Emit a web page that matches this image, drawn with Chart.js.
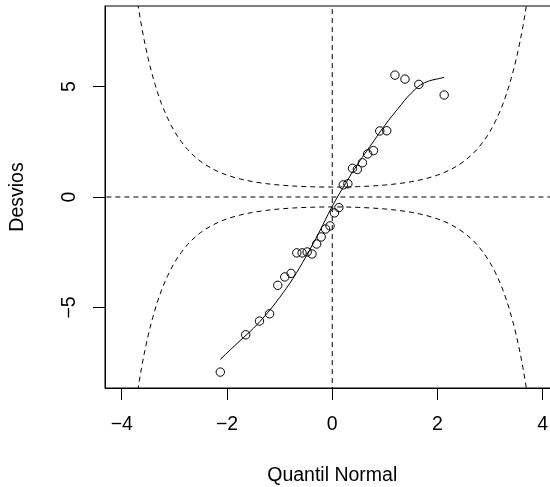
<!DOCTYPE html>
<html>
<head>
<meta charset="utf-8">
<script src="https://cdn.jsdelivr.net/npm/chart.js@4"></script>
<style>
html, body { margin: 0; padding: 0; overflow: hidden; background: #fff; }
#wrap { width: 566px; height: 487px; }
</style>
</head>
<body>
<div id="wrap"><canvas id="myChart" width="566" height="487"></canvas></div>
<script>
var quantis = [-2.128, -1.645, -1.383, -1.192, -1.036, -0.903, -0.783, -0.674, -0.573, -0.477,
               -0.385, -0.297, -0.210, -0.126, -0.042, 0.042, 0.126, 0.210, 0.297, 0.385,
               0.477, 0.573, 0.674, 0.783, 0.903, 1.036, 1.192, 1.383, 1.645, 2.128]
var desvios = [-7.93, -6.24, -5.62, -5.29, -4.0, -3.62, -3.46, -2.53, -2.53, -2.49,
               -2.58, -2.13, -1.81, -1.45, -1.31, -0.72, -0.48, 0.55, 0.6, 1.3,
               1.25, 1.55, 1.95, 2.1, 2.99, 3.0, 5.52, 5.34, 5.1, 4.62]

var curvaX = [-2.128, -1.75, -1.5, -1.25, -1, -0.75, -0.5, -0.25, 0, 0.25, 0.5, 0.75, 1, 1.25, 1.5, 1.75, 2.128]
var curvaY = [-7.35, -6.5, -5.95, -5.3, -4.55, -3.7, -2.7, -1.6, -0.42, 0.6, 1.55, 2.4, 3.25, 4.0, 4.7, 5.17, 5.42]

var bandaX = [-3.75, -3.625, -3.5, -3.375, -3.25, -3.125, -3, -2.875, -2.75, -2.625, -2.5, -2.25, -2, -1.75, -1.5, -1.25, -1, -0.75, -0.5, -0.25,
              0, 0.25, 0.5, 0.75, 1, 1.25, 1.5, 1.75, 2, 2.25, 2.5, 2.625, 2.75, 2.875, 3, 3.125, 3.25, 3.375, 3.5, 3.625, 3.75]
var bandaSup = [9.57, 7.73, 6.28, 5.15, 4.25, 3.549, 2.974, 2.525, 2.152, 1.855, 1.609, 1.243, 0.991, 0.816, 0.692, 0.604, 0.542, 0.499, 0.471, 0.455,
                0.45, 0.455, 0.471, 0.499, 0.542, 0.604, 0.692, 0.816, 0.991, 1.243, 1.609, 1.855, 2.152, 2.525, 2.974, 3.549, 4.25, 5.15, 6.28, 7.73, 9.57]
var bandaInf = [-9.57, -7.73, -6.28, -5.15, -4.25, -3.549, -2.974, -2.525, -2.152, -1.855, -1.609, -1.243, -0.991, -0.816, -0.692, -0.604, -0.542, -0.499, -0.471, -0.455,
                -0.45, -0.455, -0.471, -0.499, -0.542, -0.604, -0.692, -0.816, -0.991, -1.243, -1.609, -1.855, -2.152, -2.525, -2.974, -3.549, -4.25, -5.15, -6.28, -7.73, -9.57]

var xTicks = [-4, -2, 0, 2, 4]
var yTicks = [-5, 0, 5]
var xLimite = [-4.32, 4.32]
var yLimite = [-8.65, 8.65]

function pares(xs, ys){
    var out = []
    for(var i=0;i<xs.length;i++) out.push({x: xs[i], y: ys[i]})
    return out
}

function menos(v){
    return String(v).replace("-", "\u2212")
}

var fonte = "'Liberation Sans', Arial, Helvetica, sans-serif"

var caixa = {
    id: "caixa",
    afterDraw: function(chart){
        var a = chart.chartArea
        var ctx = chart.ctx
        ctx.save()
        ctx.strokeStyle = "#000"
        ctx.lineWidth = 1
        ctx.strokeRect(a.left, a.top, a.right - a.left, a.bottom - a.top)
        ctx.restore()
    }
}

var tracejado = {borderColor: "#000", borderWidth: 1, borderDash: [5, 4], pointRadius: 0, showLine: true, fill: false}

var myChart = new Chart("myChart", {
    type: "scatter",
    data: {
        datasets: [
            Object.assign({data: [{x: xLimite[0] - 1, y: 0}, {x: xLimite[1] + 1, y: 0}]}, tracejado),
            Object.assign({data: [{x: 0, y: yLimite[0] - 1}, {x: 0, y: yLimite[1] + 1}]}, tracejado),
            Object.assign({data: pares(bandaX, bandaSup), cubicInterpolationMode: "monotone"}, tracejado),
            Object.assign({data: pares(bandaX, bandaInf), cubicInterpolationMode: "monotone"}, tracejado),
            {
                data: pares(curvaX, curvaY),
                showLine: true,
                borderColor: "#000",
                borderWidth: 1,
                pointRadius: 0,
                tension: 0.4,
                fill: false
            },
            {
                data: pares(quantis, desvios),
                showLine: false,
                pointStyle: "circle",
                pointRadius: 4.2,
                pointBorderWidth: 1,
                pointBorderColor: "#000",
                pointBackgroundColor: "rgba(0,0,0,0)"
            }
        ]
    },
    options: {
        responsive: false,
        animation: false,
        layout: {padding: {left: 0, right: 6.5, top: 6, bottom: 0}},
        plugins: {legend: {display: false}, tooltip: {enabled: false}},
        scales: {
            x: {
                type: "linear",
                min: xLimite[0],
                max: xLimite[1],
                afterBuildTicks: function(s){ s.ticks = xTicks.map(function(v){ return {value: v} }) },
                afterFit: function(s){ s.height = 99; s.paddingLeft = 0; s.paddingRight = 0 },
                grid: {drawOnChartArea: false, drawTicks: true, tickLength: 12, tickColor: "#000", tickWidth: 1},
                border: {display: true, color: "#000", width: 1},
                ticks: {
                    color: "#000",
                    padding: 13,
                    maxRotation: 0,
                    font: {family: fonte, size: 19.5},
                    callback: function(v){ return menos(v) }
                },
                title: {display: true, text: "Quantil Normal", color: "#000", font: {family: fonte, size: 19.5}, padding: {top: 0, bottom: 0}}
            },
            y: {
                type: "linear",
                min: yLimite[0],
                max: yLimite[1],
                afterBuildTicks: function(s){ s.ticks = yTicks.map(function(v){ return {value: v} }) },
                afterFit: function(s){ s.width = 105; s.paddingTop = 0; s.paddingBottom = 0 },
                grid: {drawOnChartArea: false, drawTicks: true, tickLength: 12, tickColor: "#000", tickWidth: 1},
                border: {display: true, color: "#000", width: 1},
                ticks: {
                    color: "#000",
                    padding: 12,
                    minRotation: 90,
                    maxRotation: 90,
                    crossAlign: "center",
                    font: {family: fonte, size: 19.5},
                    callback: function(v){ return menos(v) }
                },
                title: {display: true, text: "Desvios", color: "#000", font: {family: fonte, size: 19.5}, padding: {top: 6, bottom: 0}}
            }
        }
    },
    plugins: [caixa]
})
</script>
</body>
</html>
